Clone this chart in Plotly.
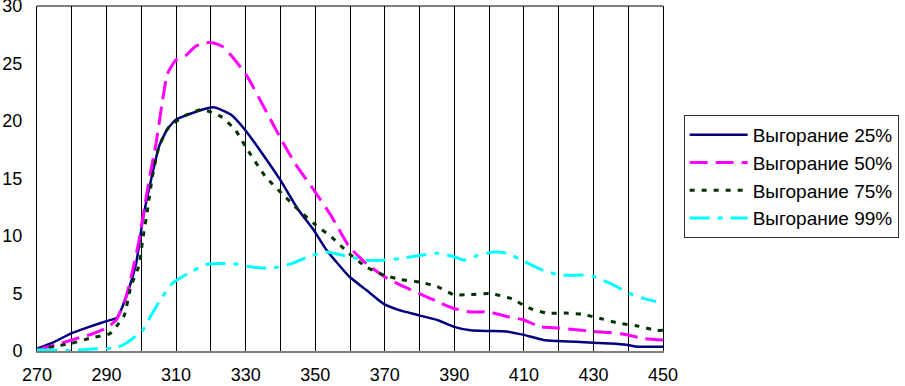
import plotly.graph_objects as go

# Wavelength (nm) and intensity values
x25 = [270, 275, 280, 285, 290, 293, 296, 298.5, 300.4, 302.8, 305.1, 307.5, 309.9, 314.7, 320.4, 322,
       326, 329.9, 334.7, 339.9, 345.1, 349.6, 353.2, 359.7, 364.7, 369.7, 373.7, 379.9, 385.1, 389.9,
       394.7, 399.9, 405, 410, 415.6, 419.9, 425, 429.9, 435, 439.9, 442.8, 450]
y25 = [0.2, 0.8, 1.56, 2.1, 2.6, 2.9, 5.0, 7.6, 11.4, 14.9, 17.8, 19.3, 20.1, 20.7, 21.2, 21.1,
       20.5, 19.2, 17.2, 14.9, 12.3, 10.5, 8.8, 6.5, 5.3, 4.1, 3.6, 3.1, 2.7, 2.1,
       1.8, 1.74, 1.7, 1.4, 0.96, 0.87, 0.8, 0.72, 0.65, 0.52, 0.38, 0.38]

x50 = [270, 275, 280, 286, 289.9, 292.8, 295.6, 297.5, 299.4, 300.9, 302.5, 304.2, 306.1, 307.5, 309.9,
       312.8, 315.6, 318.5, 320.5, 323.2, 326.1, 330.4, 335.6, 340.4, 344.2, 349.6, 354.7, 359.7,
       364.7, 369.7, 374.7, 379.9, 385.1, 389.9, 394.7, 399.9, 405.1, 410, 414.7, 419.9, 425,
       429.9, 434.7, 439.9, 444.2, 450]
y50 = [0.1, 0.5, 0.96, 1.5, 2.0, 2.7, 4.7, 7.0, 9.7, 12.5, 15.3, 18.0, 21.8, 24.1, 25.3,
       25.7, 26.5, 26.8, 26.8, 26.5, 25.6, 23.9, 21.0, 18.3, 16.3, 14.0, 11.7, 9.1,
       7.6, 6.5, 5.7, 5.0, 4.3, 3.7, 3.4, 3.4, 3.0, 2.7, 2.1, 2.0, 1.85,
       1.7, 1.6, 1.4, 1.1, 0.96]

x75 = [270, 275, 280, 285, 290.9, 293, 295.1, 297, 299.4, 300.4, 301.8, 303.2, 305.1, 308, 312.8,
       317.5, 322.8, 327.1, 329.9, 335.6, 340.4, 345.1, 350, 354.7, 359.7, 364.7, 369.7, 374.7,
       379.9, 385.1, 389.9, 394.7, 400, 406, 411.8, 416.6, 422, 426.7, 432.3, 437.6, 442.3,
       448, 450]
y75 = [0.1, 0.4, 0.67, 1.1, 1.5, 2.2, 3.1, 5.6, 7.5, 9.7, 12.3, 15.2, 17.8, 19.5, 20.5,
       21.0, 20.4, 19.2, 17.8, 15.2, 13.7, 12.3, 11.0, 9.9, 8.5, 7.3, 6.6, 6.2,
       6.0, 5.6, 4.9, 4.9, 5.0, 4.6, 3.7, 3.3, 3.3, 3.2, 2.8, 2.4, 2.2,
       1.8, 1.8]

x99 = [270, 280, 287, 290, 293, 295.6, 298, 300.4, 303.2, 306, 309, 313.7, 318.5, 322, 326.1,
       331.8, 337.5, 343.2, 349, 353.2, 359.7, 364.7, 369.7, 374.7, 379.9, 385.1, 389.9,
       392.8, 396.6, 401.3, 405.1, 410, 415.6, 420.4, 427, 429.9, 434.7, 440.4, 444.2, 448]
y99 = [0.1, 0.05, 0.2, 0.2, 0.3, 0.67, 1.2, 1.8, 3.3, 4.7, 5.9, 6.8, 7.5, 7.6, 7.6,
       7.3, 7.2, 7.6, 8.3, 8.6, 8.2, 7.9, 7.9, 8.05, 8.3, 8.5, 8.2,
       7.9, 8.3, 8.6, 8.5, 7.8, 7.0, 6.6, 6.6, 6.5, 5.9, 5.0, 4.6, 4.3]

names = ["Выгорание 25%", "Выгорание 50%", "Выгорание 75%", "Выгорание 99%"]
x_ticks = list(range(270, 451, 20))
y_ticks = list(range(0, 31, 5))

fig = go.Figure()
fig.add_trace(go.Scatter(x=x25, y=y25, mode="lines", name=names[0],
                         line=dict(color="#000080", width=2.5, shape="spline", smoothing=0.5)))
fig.add_trace(go.Scatter(x=x50, y=y50, mode="lines", name=names[1],
                         line=dict(color="#FF00FF", width=3, dash="18px,8px", shape="spline", smoothing=0.5)))
fig.add_trace(go.Scatter(x=x75, y=y75, mode="lines", name=names[2],
                         line=dict(color="#003300", width=3, dash="5px,7px", shape="spline", smoothing=0.5)))
fig.add_trace(go.Scatter(x=x99, y=y99, mode="lines", name=names[3],
                         line=dict(color="#00FFFF", width=3, dash="20px,8px,5px,8px", shape="spline", smoothing=0.5)))

font = dict(family="Liberation Sans, Arial, sans-serif", color="black")

fig.update_layout(
    width=905, height=386,
    margin=dict(l=37, r=238, t=6, b=35),
    paper_bgcolor="white", plot_bgcolor="white",
    font=dict(size=18, **font),
    showlegend=True,
    legend=dict(x=1.033, y=0.684, xanchor="left", yanchor="top",
                bordercolor="#333333", borderwidth=1, bgcolor="white",
                font=dict(size=19, **font), tracegroupgap=9, traceorder="normal",
                itemwidth=58),
    xaxis=dict(range=[270, 450], tickvals=x_ticks, ticktext=[str(v) for v in x_ticks],
               showgrid=False, automargin=False,
               showline=True, linecolor="#808080", linewidth=2, mirror=False,
               ticks="outside", ticklen=6, tickcolor="rgba(255,255,255,0)",
               ticklabeloverflow="allow", zeroline=False),
    yaxis=dict(range=[0, 30], tickvals=y_ticks, showgrid=False, automargin=False,
               showline=True, linecolor="black", linewidth=1, mirror=True,
               ticks="outside", ticklen=10, tickcolor="rgba(255,255,255,0)",
               ticklabeloverflow="allow", zeroline=False),
)
# vertical grid every 10
fig.update_xaxes(minor=dict(dtick=10, tick0=270, showgrid=True, gridcolor="black", gridwidth=1, ticks=""))
fig.add_shape(type="line", xref="paper", yref="paper", x0=0, x1=1, y0=1, y1=1,
              line=dict(color="black", width=1))

for i, tr in enumerate(fig.data):
    tr.legendgroup = str(i)

fig.write_html("out.html", config={"displayModeBar": False},
               post_script="document.body.style.margin='0';")
